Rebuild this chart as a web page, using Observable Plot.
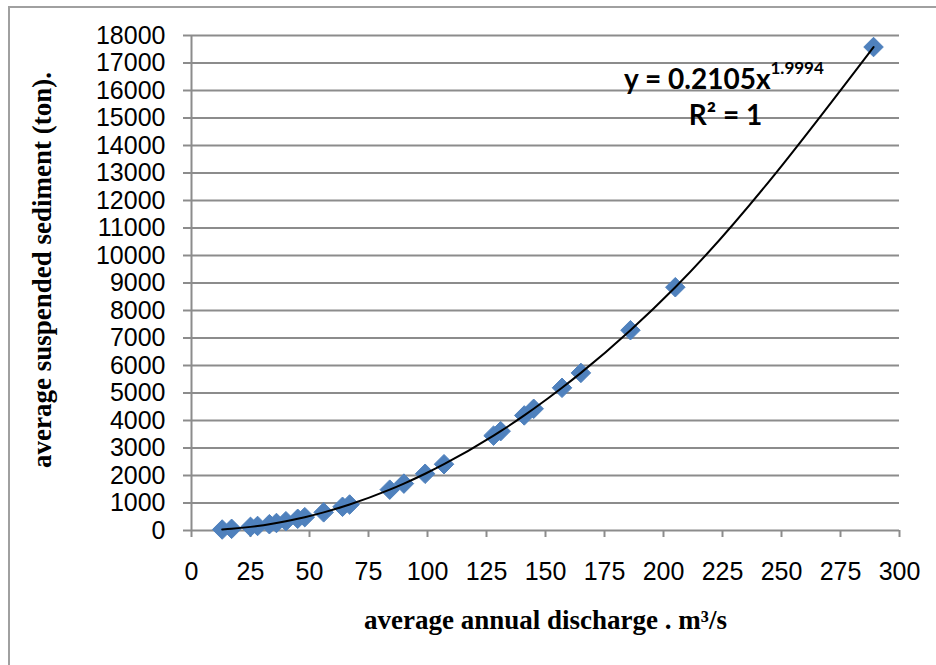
<!DOCTYPE html>
<html>
<head>
<meta charset="utf-8">
<script src="https://cdn.jsdelivr.net/npm/d3@7"></script>
<script src="https://cdn.jsdelivr.net/npm/@observablehq/plot@0.6"></script>
<style>
  html, body { margin: 0; padding: 0; background: #fff; }
  #wrap { position: relative; width: 936px; height: 665px; overflow: hidden; }
  #frame { position: absolute; left: 8px; top: 6px; width: 940px; height: 670px;
           border-left: 2px solid #a0a0a0; border-top: 2px solid #a0a0a0; pointer-events: none; }
</style>
</head>
<body>
<div id="wrap"><div id="frame"></div></div>
<script>
// Average annual discharge (m3/s) and average suspended sediment (ton)
const discharge = [13, 17, 25, 28, 33, 36, 40, 45, 48, 56, 64, 67, 84, 90, 99, 107, 128, 131, 141, 145, 157, 165, 186, 205, 289];
const sediment  = [36, 61, 132, 165, 229, 273, 337, 426, 485, 660, 862, 945, 1485, 1705, 2063, 2410, 3449, 3612, 4185, 4426, 5189, 5731, 7283, 8846, 17581];

const xTicks = [0, 25, 50, 75, 100, 125, 150, 175, 200, 225, 250, 275, 300];
const yTicks = [0, 1000, 2000, 3000, 4000, 5000, 6000, 7000, 8000, 9000, 10000, 11000, 12000, 13000, 14000, 15000, 16000, 17000, 18000];

const xTitle = "average annual discharge . m³/s";
const yTitle = "average suspended sediment (ton).";
const eqMain = "y = 0.2105x";
const eqExp = "1.9994";
const eqR2 = "R² = 1";

const points = discharge.map((x, i) => ({x, y: sediment[i]}));

const gridColor = "#8c8c8c";
const pointColor = "#4f81bd";

const chart = Plot.plot({
  width: 936,
  height: 665,
  marginLeft: 191,
  marginRight: 37,
  marginTop: 35,
  marginBottom: 135,
  style: {fontFamily: "Liberation Sans, Arial, sans-serif", fontSize: "25px", background: "transparent", overflow: "visible"},
  x: {domain: [0, 300]},
  y: {domain: [0, 18000]},
  marks: [
    Plot.gridY(yTicks, {stroke: gridColor, strokeOpacity: 1, strokeWidth: 2}),
    Plot.ruleX([0], {stroke: gridColor, strokeWidth: 2}),
    Plot.axisY(yTicks, {tickSize: 8, tickPadding: 18, stroke: gridColor, strokeWidth: 2, fill: "black", tickFormat: d => String(d), label: null}),
    Plot.axisX(xTicks, {tickSize: 7, tickPadding: 25, stroke: gridColor, strokeWidth: 2, fill: "black", tickFormat: d => String(d), label: null}),
    Plot.dot(points, {x: "x", y: "y", symbol: "diamond2", r: 8.8, fill: pointColor, stroke: pointColor, strokeWidth: 1}),
    Plot.line(points, {x: "x", y: "y", curve: "monotone-x", stroke: "black", strokeWidth: 2}),
    Plot.text([xTitle], {frameAnchor: "bottom", dy: 98, fontFamily: "Liberation Serif, Times New Roman, serif", fontWeight: "bold", fontSize: 27, fill: "black"}),
    Plot.text([yTitle], {frameAnchor: "left", textAnchor: "middle", rotate: -90, dx: -149, dy: -13, fontFamily: "Liberation Serif, Times New Roman, serif", fontWeight: "bold", fontSize: 27, fill: "black"}),
    Plot.text([eqMain], {frameAnchor: "top-right", textAnchor: "end", dx: -129, dy: 34, fontFamily: "Lato, Liberation Sans, sans-serif", fontWeight: "bold", fontSize: 28, fill: "black"}),
    Plot.text([eqExp], {frameAnchor: "top-right", textAnchor: "start", dx: -129, dy: 26, fontFamily: "Lato, Liberation Sans, sans-serif", fontWeight: "bold", fontSize: 17, fill: "black"}),
    Plot.text([eqR2], {frameAnchor: "top-right", textAnchor: "middle", dx: -174, dy: 70, fontFamily: "Lato, Liberation Sans, sans-serif", fontWeight: "bold", fontSize: 28, fill: "black"})
  ]
});
document.getElementById("wrap").prepend(chart);
</script>
</body>
</html>
